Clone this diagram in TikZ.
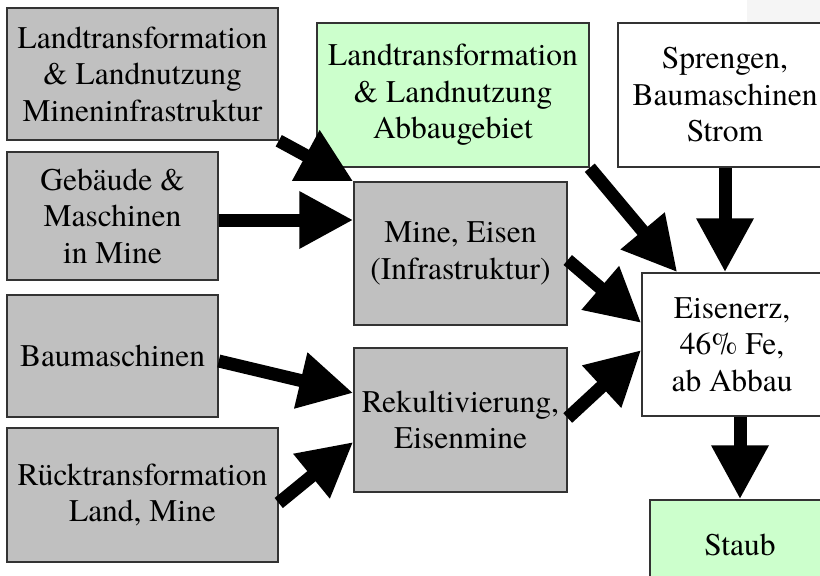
\documentclass[tikz,border=0pt]{standalone}
\usepackage{fontspec}
\setmainfont{texgyretermes}[Extension=.otf, UprightFont=*-regular, BoldFont=*-bold]
\usetikzlibrary{arrows.meta}
\definecolor{boxgray}{HTML}{C0C0C0}
\definecolor{boxgreen}{HTML}{CCFFCC}
\definecolor{framegray}{HTML}{333333}
\tikzset{
  box/.style={draw=framegray, line width=1.5pt, align=center, inner sep=0pt,
    font=\fontsize{31.5}{36.5}\selectfont},
  graybox/.style={box, fill=boxgray},
  greenbox/.style={box, fill=boxgreen},
  whitebox/.style={box, fill=white},
  flow/.style={line width=13pt, -{Triangle[length=54pt,width=54pt]}}
}
\begin{document}
\begin{tikzpicture}[x=1pt,y=-1pt]
\useasboundingbox (0,0) rectangle (820,576);
\clip (0,0) rectangle (820,576);
\fill[white] (0,0) rectangle (820,576);
\fill[gray!8] (747,0) rectangle (820,22);
\node[graybox, minimum width=271pt, minimum height=132pt] (A) at (142.5,74) {Landtransformation\\\& Landnutzung\\Mineninfrastruktur};
\node[graybox, minimum width=211pt, minimum height=128pt] (B) at (112.5,216) {Gebäude \&\\Maschinen\\in Mine};
\node[graybox, minimum width=211pt, minimum height=122pt] (C) at (112.5,356) {Baumaschinen};
\node[graybox, minimum width=271pt, minimum height=134pt] (D) at (142.5,495) {Rücktransformation\\Land, Mine};
\node[greenbox, minimum width=272pt, minimum height=144pt] (E) at (453,95) {Landtransformation\\\& Landnutzung\\Abbaugebiet};
\node[whitebox, minimum width=214pt, minimum height=144pt] (F) at (725,95) {Sprengen,\\Baumaschinen\\Strom};
\node[graybox, minimum width=213pt, minimum height=143pt] (G) at (460.5,253.5) {Mine, Eisen\\(Infrastruktur)};
\node[graybox, minimum width=213pt, minimum height=144pt] (H) at (460.5,420) {Rekultivierung,\\Eisenmine};
\node[whitebox, minimum width=180pt, minimum height=143pt] (I) at (732,344.5) {Eisenerz,\\46\% Fe,\\ab Abbau};
\node[greenbox, minimum width=180pt, minimum height=90pt] (J) at (740,545) {Staub};
\draw[flow] (A.south east) -- (G.north west);
\draw[flow] ([yshift=-4pt]B.east) -- ([yshift=-4pt]B.east -| G.west);
\draw[flow] (E.south east) -- ([xshift=36pt]I.north west);
\draw[flow] (F.south) -- (F.south |- I.north);
\draw[flow] ([yshift=-6.5pt]G.east) -- ([yshift=21.5pt]I.west);
\draw[flow] ([yshift=-5pt]C.east) -- ([yshift=27pt]H.west);
\draw[flow] ([yshift=-8pt]D.east) -- ([yshift=-22pt]H.west);
\draw[flow] ([yshift=2pt]H.east) -- ([yshift=-5.5pt]I.west);
\draw[flow] ([xshift=8pt]I.south) -- ([xshift=8pt]I.south |- J.north);
\end{tikzpicture}
\end{document}
